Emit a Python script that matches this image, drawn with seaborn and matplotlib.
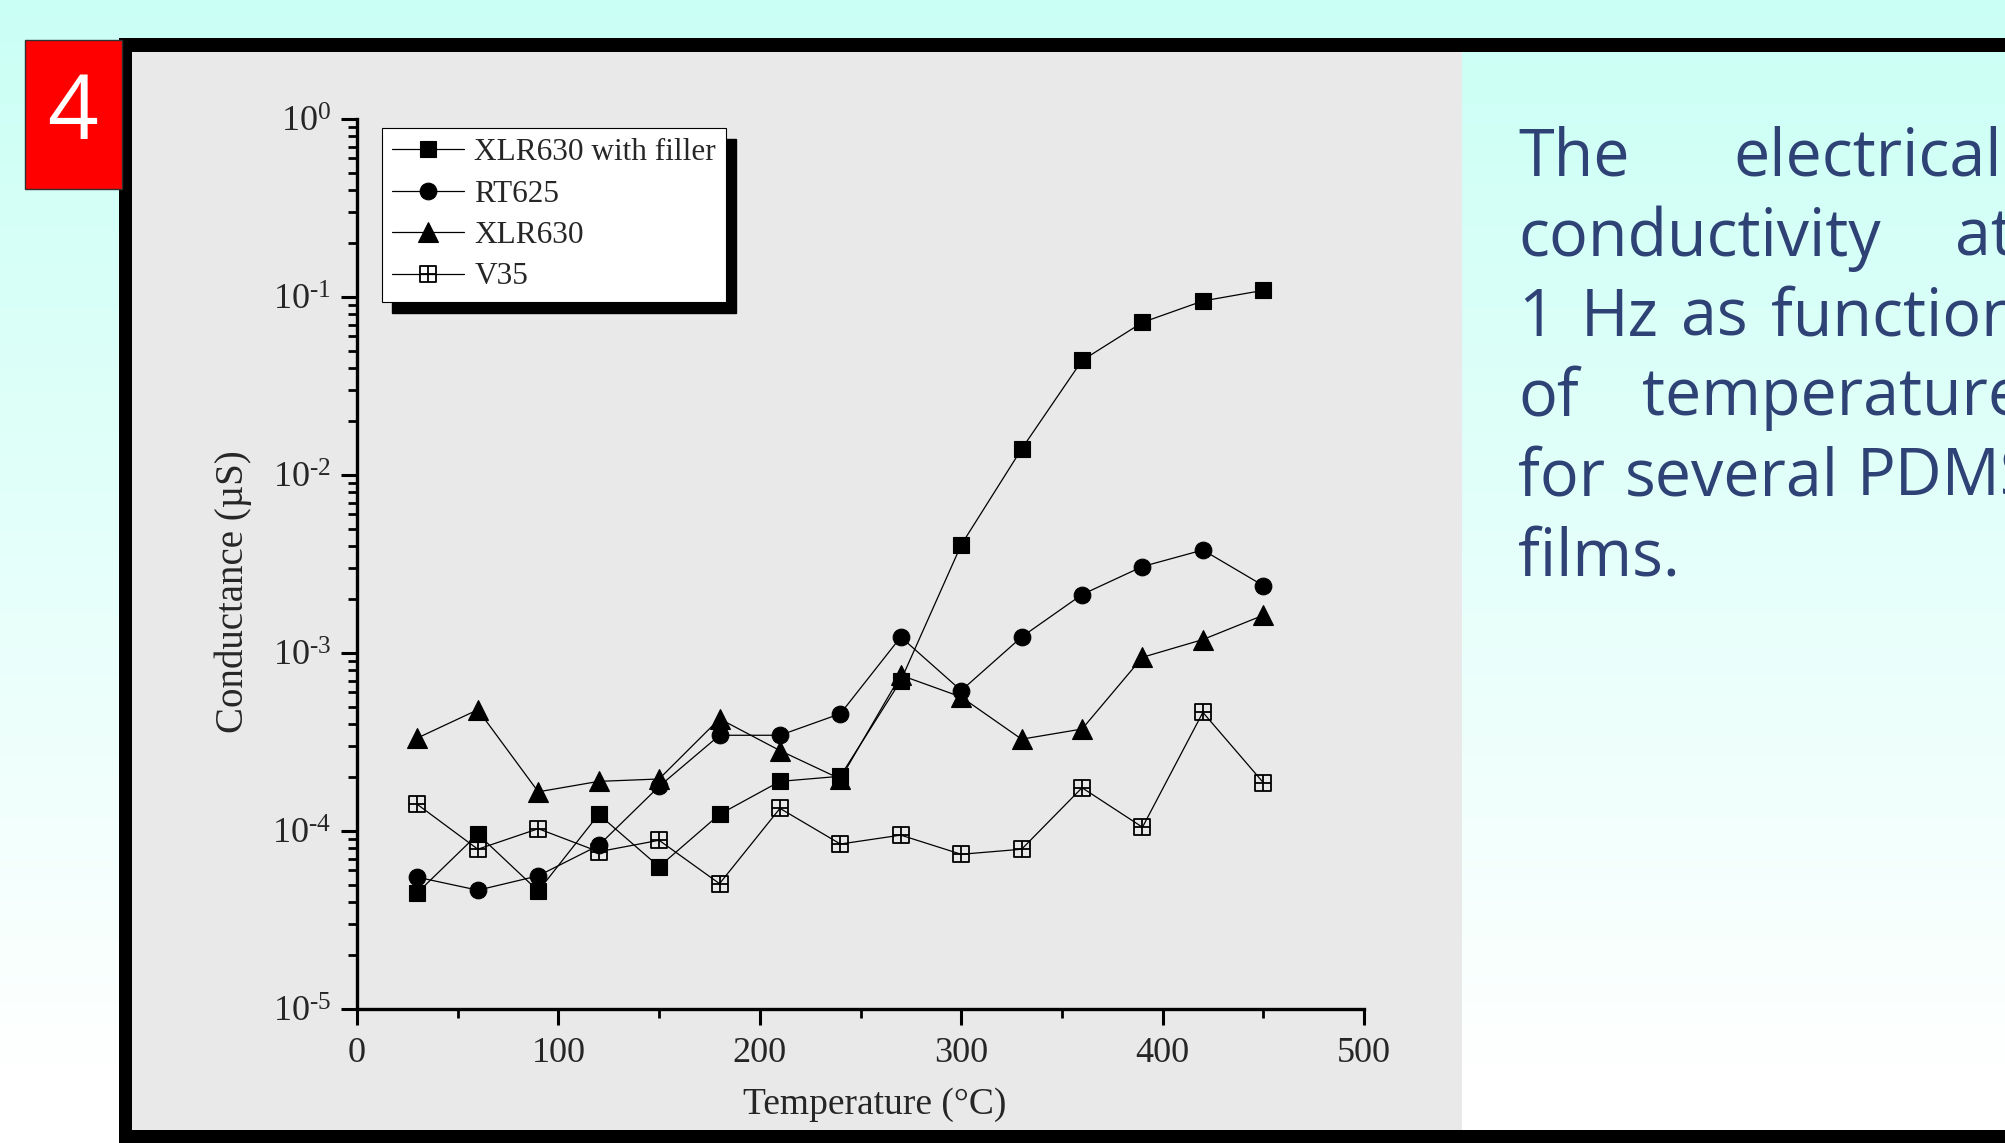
import numpy as np
import matplotlib
matplotlib.use('Agg')
import matplotlib.pyplot as plt
import seaborn as sns
from matplotlib.patches import Rectangle
from matplotlib.path import Path
from matplotlib.ticker import MultipleLocator, LogLocator, NullFormatter
from matplotlib.transforms import IdentityTransform

# data (conductance in microsiemens)
temperature = [30, 60, 90, 120, 150, 180, 210, 240, 270, 300, 330, 360, 390, 420, 450]
xlr630_filler = [4.5e-5, 9.6e-5, 4.6e-5, 1.24e-4, 6.3e-5, 1.24e-4, 1.9e-4, 2.03e-4,
                 7.0e-4, 4.05e-3, 1.40e-2, 4.4e-2, 7.2e-2, 9.5e-2, 1.09e-1]
rt625 = [5.5e-5, 4.65e-5, 5.6e-5, 8.3e-5, 1.78e-4, 3.45e-4, 3.45e-4, 4.56e-4,
         1.23e-3, 6.15e-4, 1.23e-3, 2.13e-3, 3.06e-3, 3.79e-3, 2.39e-3]
xlr630 = [3.33e-4, 4.8e-4, 1.66e-4, 1.9e-4, 1.96e-4, 4.27e-4, 2.83e-4, 1.96e-4,
          7.5e-4, 5.66e-4, 3.28e-4, 3.74e-4, 9.46e-4, 1.19e-3, 1.63e-3]
v35 = [1.41e-4, 7.9e-5, 1.03e-4, 7.65e-5, 8.87e-5, 5.06e-5, 1.34e-4, 8.45e-5,
       9.48e-5, 7.4e-5, 7.9e-5, 1.75e-4, 1.05e-4, 4.64e-4, 1.87e-4]
series_labels = ['XLR630 with filler', 'RT625', 'XLR630', 'V35']

x_ticks = [0, 100, 200, 300, 400, 500]
y_ticks = [1e-5, 1e-4, 1e-3, 1e-2, 1e-1, 1e0]
y_tick_labels = ['$\\mathrm{10^{\u2010' + '5}}$', '$\\mathrm{10^{\u2010' + '4}}$',
                 '$\\mathrm{10^{\u2010' + '3}}$', '$\\mathrm{10^{\u2010' + '2}}$',
                 '$\\mathrm{10^{\u2010' + '1}}$', '$\\mathrm{10^{0}}$']

caption_lines = [['The', 'electrical'],
                 ['conductivity', 'at'],
                 ['1', 'Hz', 'as', 'function'],
                 ['of', 'temperature'],
                 ['for', 'several', 'PDMS'],
                 ['films.']]

sns.set_style('white')
plt.rcParams['font.family'] = ['Liberation Serif', 'DejaVu Serif']
plt.rcParams['mathtext.fontset'] = 'custom'
plt.rcParams['mathtext.rm'] = 'Liberation Serif'
plt.rcParams['mathtext.it'] = 'Liberation Serif:italic'
plt.rcParams['mathtext.bf'] = 'Liberation Serif:bold'

W, H = 2005, 1143
fig = plt.figure(figsize=(W / 100, H / 100), dpi=100)

# slide background (pixel coordinates, y downwards)
bg = fig.add_axes([0, 0, 1, 1], zorder=-10)
bg.set_xlim(0, W)
bg.set_ylim(H, 0)
bg.axis('off')
t = np.clip(np.linspace(0, 1, 400) / 0.95, 0, 1)
top_col = np.array([202, 255, 245]) / 255
grad = top_col[None, :] * (1 - t[:, None]) + np.ones(3)[None, :] * t[:, None]
bg.imshow(grad[:, None, :], extent=(0, W, H, 0), aspect='auto')
bg.add_patch(Rectangle((132, 52), 1462 - 132, 1130 - 52, color='#E9E9E9', lw=0))
bg.add_patch(Rectangle((119, 38), W, 14, color='k', lw=0))
bg.add_patch(Rectangle((119, 38), 13, H, color='k', lw=0))
bg.add_patch(Rectangle((119, 1130), W, 30, color='k', lw=0))
bg.add_patch(Rectangle((25, 40), 97, 149, facecolor='#FF0000', edgecolor='#303030', lw=1))
bg.text(73, 116, '4', color='white', fontsize=64, family=['Open Sans', 'DejaVu Sans'],
        ha='center', va='center')

# caption on the right, word by word (justified in the original)
word_x = [[1518, 1733], [1518, 1955], [1518, 1581, 1681, 1771],
          [1518, 1642], [1518, 1625, 1857], [1518]]
baselines = [176, 256, 336, 415, 495, 575]
for words, xs, yb in zip(caption_lines, word_x, baselines):
    for w, xw in zip(words, xs):
        bg.text(xw, yb, w, color='#2F4275', fontsize=46.5,
                family=['Open Sans', 'DejaVu Sans'], ha='left', va='baseline')

# main plot
ax = fig.add_axes([357 / W, 1 - 1009 / H, 1007 / W, 890 / H])
ax.set_facecolor('none')

v35_marker = Path([(-1, -1), (1, -1), (1, 1), (-1, 1), (-1, -1),
                   (0, -1), (0, 1), (-1, 0), (1, 0)],
                  [Path.MOVETO, Path.LINETO, Path.LINETO, Path.LINETO, Path.CLOSEPOLY,
                   Path.MOVETO, Path.LINETO, Path.MOVETO, Path.LINETO])

styles = [dict(marker='s', markersize=11, markerfacecolor='k'),
          dict(marker='o', markersize=12, markerfacecolor='k'),
          dict(marker='^', markersize=14.5, markerfacecolor='k'),
          dict(marker=v35_marker, markersize=11, markerfacecolor='none', markeredgewidth=1.3)]
for vals, lab, st in zip([xlr630_filler, rt625, xlr630, v35], series_labels, styles):
    kw = dict(markeredgecolor='k', markeredgewidth=0.8)
    kw.update(st)
    sns.lineplot(x=temperature, y=vals, ax=ax, color='k', linewidth=0.9, label=lab, **kw)

ax.set_yscale('log')
ax.set_xlim(0, 500)
ax.set_ylim(1e-5, 1)
ax.set_xticks(x_ticks)
ax.set_xticklabels([str(v) for v in x_ticks])
ax.xaxis.set_minor_locator(MultipleLocator(50))
ax.set_yticks(y_ticks)
ax.set_yticklabels(y_tick_labels)
ax.yaxis.set_minor_locator(LogLocator(base=10, subs=np.arange(2, 10)))
ax.yaxis.set_minor_formatter(NullFormatter())

for side in ['top', 'right']:
    ax.spines[side].set_visible(False)
for side in ['left', 'bottom']:
    ax.spines[side].set_linewidth(2.4)
    ax.spines[side].set_color('k')
ax.tick_params(which='major', direction='out', length=11.5, width=2.2,
               labelsize=26, pad=7, color='k', left=True, bottom=True)
ax.tick_params(which='minor', direction='out', length=6.5, width=2.0,
               color='k', left=True, bottom=True)
ax.tick_params(axis='x', which='major', pad=9)

ax.set_xlabel('Temperature (°C)', fontsize=27)
ax.xaxis.set_label_coords(0.5144, -0.0876)
ax.set_ylabel('Conductance (µS)', fontsize=28)
ax.yaxis.set_label_coords(-0.104, 0.4685)

leg = ax.legend(loc='upper left', bbox_to_anchor=(382 / W, 1 - 128 / H),
                bbox_transform=fig.transFigure, fontsize=22.5, frameon=True,
                fancybox=False, edgecolor='k', facecolor='white', framealpha=1,
                borderaxespad=0, handlelength=2.3, handletextpad=0.33,
                labelspacing=0.40, borderpad=0.32)
leg.get_frame().set_linewidth(0.8)

fig.canvas.draw()
bb = leg.get_window_extent()
ax.add_patch(Rectangle((bb.x0 + 10, bb.y0 - 11), bb.width, bb.height,
                       transform=IdentityTransform(), color='k', zorder=4.5,
                       clip_on=False))

fig.savefig('out.png', dpi=100)
